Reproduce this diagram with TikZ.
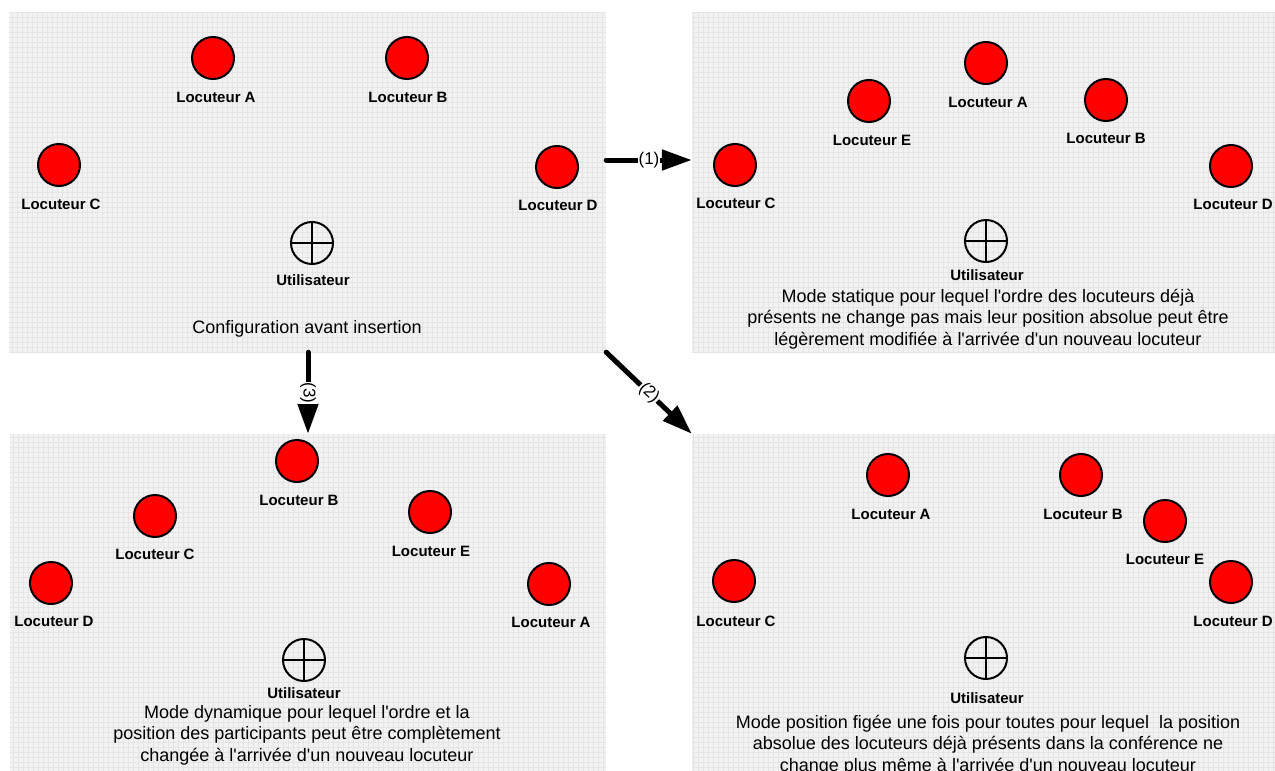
\documentclass[tikz,border=0pt]{standalone}
\usepackage{fontspec}
\setmainfont{Liberation Sans}[Ligatures=TeXOff]
\usetikzlibrary{arrows.meta,calc}
\definecolor{panelbg}{RGB}{242,242,242}
\definecolor{gridc}{RGB}{229,229,229}
\begin{document}
\begin{tikzpicture}[x=1pt,y=-1pt,
  panel/.style={rectangle, draw=none, fill=panelbg, inner sep=0pt,
    path picture={\draw[gridc, line width=0.5pt, step=5pt]
      (path picture bounding box.south west) grid (path picture bounding box.north east);}},
  spk/.style={circle, draw=black, fill=red, line width=2pt, minimum size=42pt, inner sep=0pt},
  usr/.style={circle, draw=black, line width=2pt, minimum size=42pt, inner sep=0pt},
  cross/.style={line width=1.2pt},
  lbl/.style={font=\bfseries\fontsize{15}{16}\selectfont, inner sep=0pt},
  desc/.style={font=\fontsize{18}{21.5}\selectfont, align=center, inner sep=0pt},
  conn/.style={line width=5pt, line cap=round, -{Triangle[length=30pt,width=20pt]}},
  tag/.style={font=\fontsize{17}{18}\selectfont, fill=white, inner sep=1pt, sloped}]
\useasboundingbox (0,0) rectangle (1275,771);

% panels
\node[panel, minimum width=597pt, minimum height=340pt] (p1) at (307.5,182) {};
\node[panel, minimum width=583pt, minimum height=340pt] (p2) at (983.5,182) {};
\node[panel, minimum width=596pt, minimum height=337pt] (p3) at (308,602.5) {};
\node[panel, minimum width=583pt, minimum height=337pt] (p4) at (983.5,602.5) {};

% panel 1
\node[spk] (p1a) at (213,58) {};
\node[lbl] (p1al) at (216,97) {Locuteur A};
\node[spk] (p1b) at (407,58) {};
\node[lbl] (p1bl) at (408,97) {Locuteur B};
\node[spk] (p1c) at (59,165) {};
\node[lbl] (p1cl) at (61,204) {Locuteur C};
\node[spk] (p1d) at (557,167) {};
\node[lbl] (p1dl) at (558,205) {Locuteur D};
\node[usr] (p1u) at (312,243) {};
\draw[cross] (p1u.north) -- (p1u.south) (p1u.west) -- (p1u.east);
\node[lbl] (p1ul) at (313,280) {Utilisateur};
\node[desc] (p1t) at (307,329) {Configuration avant insertion};

% panel 2
\node[spk] (p2a) at (986,63) {};
\node[lbl] (p2al) at (988,102) {Locuteur A};
\node[spk] (p2e) at (869,101) {};
\node[lbl] (p2el) at (872,140) {Locuteur E};
\node[spk] (p2b) at (1106,100) {};
\node[lbl] (p2bl) at (1106,138) {Locuteur B};
\node[spk] (p2c) at (735,165) {};
\node[lbl] (p2cl) at (736,203) {Locuteur C};
\node[spk] (p2d) at (1231,166) {};
\node[lbl] (p2dl) at (1233,204) {Locuteur D};
\node[usr] (p2u) at (986,241) {};
\draw[cross] (p2u.north) -- (p2u.south) (p2u.west) -- (p2u.east);
\node[lbl] (p2ul) at (987,275) {Utilisateur};
\node[desc] (p2t) at (988,319) {Mode statique pour lequel l'ordre des locuteurs déjà\\présents ne change pas mais leur position absolue peut être\\légèrement modifiée à l'arrivée d'un nouveau locuteur};

% panel 3
\node[spk] (p3b) at (297,461) {};
\node[lbl] (p3bl) at (299,500) {Locuteur B};
\node[spk] (p3c) at (155,516) {};
\node[lbl] (p3cl) at (155,554) {Locuteur C};
\node[spk] (p3e) at (430,512) {};
\node[lbl] (p3el) at (431,551) {Locuteur E};
\node[spk] (p3d) at (51,583) {};
\node[lbl] (p3dl) at (54,621) {Locuteur D};
\node[spk] (p3a) at (549,584) {};
\node[lbl] (p3al) at (551,622) {Locuteur A};
\node[usr] (p3u) at (304,660) {};
\draw[cross] (p3u.north) -- (p3u.south) (p3u.west) -- (p3u.east);
\node[lbl] (p3ul) at (304,693) {Utilisateur};
\node[desc] (p3t) at (307,735) {Mode dynamique pour lequel l'ordre et la\\position des participants peut être complètement\\changée à l'arrivée d'un nouveau locuteur};

% panel 4
\node[spk] (p4a) at (888,475) {};
\node[lbl] (p4al) at (891,514) {Locuteur A};
\node[spk] (p4b) at (1081,475) {};
\node[lbl] (p4bl) at (1083,514) {Locuteur B};
\node[spk] (p4e) at (1165,521) {};
\node[lbl] (p4el) at (1165,559) {Locuteur E};
\node[spk] (p4c) at (734,581) {};
\node[lbl] (p4cl) at (736,621) {Locuteur C};
\node[spk] (p4d) at (1231,582) {};
\node[lbl] (p4dl) at (1233,621) {Locuteur D};
\node[usr] (p4u) at (986,658) {};
\draw[cross] (p4u.north) -- (p4u.south) (p4u.west) -- (p4u.east);
\node[lbl] (p4ul) at (987,698) {Utilisateur};
\node[desc] (p4t) at (988,745) {Mode position figée une fois pour toutes pour lequel\ \ la position\\absolue des locuteurs déjà présents dans la conférence ne\\change plus même à l'arrivée d'un nouveau locuteur};

% connectors
\draw[conn] ([yshift=22pt]p1.east) -- node[tag] {(1)} ([yshift=22pt]p2.west);
\draw[conn] (p1.south east) -- node[tag] {(2)} (p4.north west);
\draw[conn] ([xshift=0.5pt]p1.south) -- node[tag] {(3)} (p3.north);
\end{tikzpicture}
\end{document}
